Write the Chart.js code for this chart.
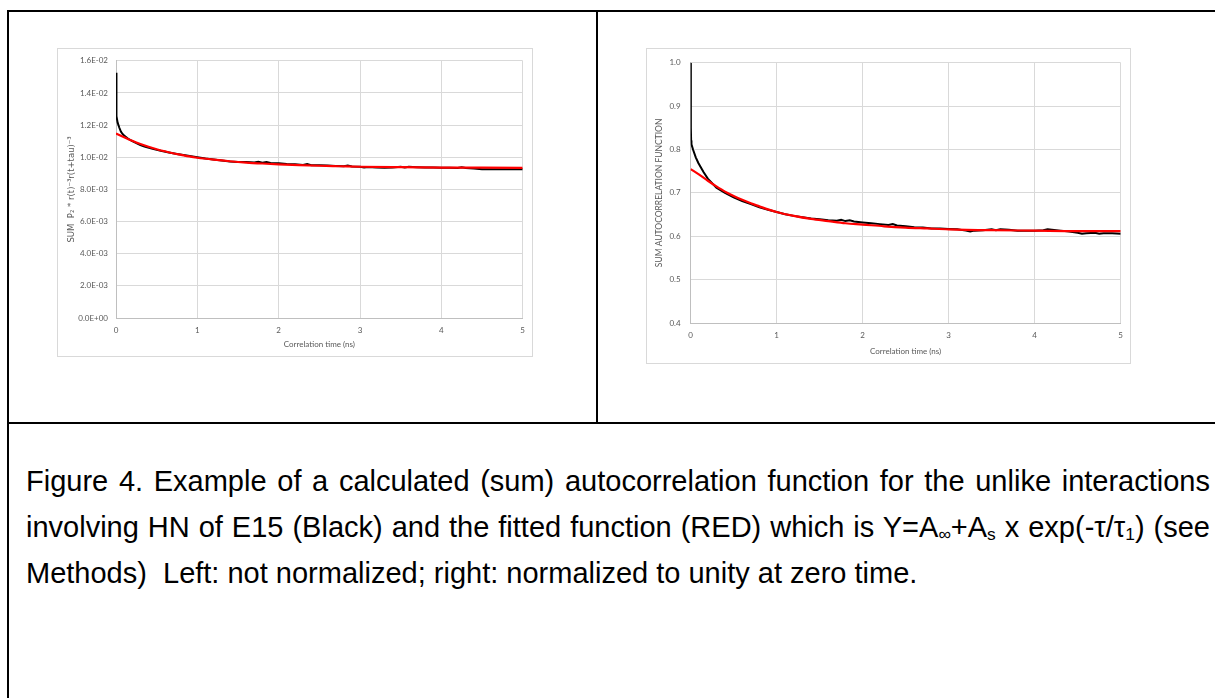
<!DOCTYPE html>
<html>
<head>
<meta charset="utf-8">
<script src="https://cdn.jsdelivr.net/npm/chart.js@4.4.1/dist/chart.umd.min.js"></script>
<style>
  body { margin: 0; background: #fff; }
  #page { position: relative; width: 1215px; height: 698px; overflow: hidden; }
  .rule { position: absolute; background: #000; }
  .frame { position: absolute; border: 1px solid #d9d9d9; box-sizing: border-box; pointer-events: none; }
  canvas { position: absolute; }
  .caption { position: absolute; left: 26px; top: 458px; width: 1184px;
             font-family: "Liberation Sans", Arial, sans-serif; font-size: 29px; line-height: 46px; color: #000; }
  .caption .full { text-align: justify; text-align-last: justify; white-space: nowrap; }
  .caption sub { font-size: 0.6em; vertical-align: -0.2em; line-height: 0; }
</style>
</head>
<body>
<div id="page">
  <div class="rule" style="left:7px; top:10px; width:1208px; height:2px;"></div>
  <div class="rule" style="left:7px; top:10px; width:2px; height:688px;"></div>
  <div class="rule" style="left:596px; top:10px; width:2px; height:414px;"></div>
  <div class="rule" style="left:7px; top:422px; width:1208px; height:2px;"></div>

  <canvas id="rawChart" width="476" height="309" style="left:57px; top:48px;"></canvas>
  <div class="frame" style="left:57px; top:48px; width:476px; height:309px;"></div>

  <canvas id="normChart" width="485" height="316" style="left:646px; top:48px;"></canvas>
  <div class="frame" style="left:646px; top:48px; width:485px; height:316px;"></div>

  <div class="caption">
    <div class="full">Figure 4. Example of a calculated (sum) autocorrelation function for the unlike interactions</div>
    <div class="full">involving HN of E15 (Black) and the fitted function (RED) which is Y=A<sub>∞</sub>+A<sub>s</sub> x exp(-τ/τ<sub>1</sub>) (see</div>
    <div>Methods)&nbsp; Left: not normalized; right: normalized to unity at zero time.</div>
  </div>
</div>

<script>
// correlation time axis (ns) for the computed sum, un-normalized
const rawTime = [0, 0.002, 0.005, 0.01, 0.02, 0.04, 0.06, 0.08, 0.1, 0.15, 0.2, 0.25, 0.3, 0.35, 0.45, 0.55, 0.65, 0.75, 0.85, 1.0,
  1.1, 1.2, 1.3, 1.4, 1.5, 1.6, 1.7, 1.75, 1.8, 1.85, 1.9, 2.0, 2.1, 2.2, 2.3, 2.35, 2.4, 2.5, 2.6, 2.7, 2.8, 2.85,
  2.9, 3.0, 3.05, 3.1, 3.2, 3.3, 3.4, 3.5, 3.55, 3.6, 3.7, 3.8, 3.9, 4.0, 4.1, 4.2, 4.25, 4.3, 4.4, 4.5, 4.6, 4.7, 4.8, 4.9, 5.0];
const rawSum = [0.01525, 0.0140, 0.0134, 0.01255, 0.01215, 0.01185, 0.01160, 0.01145, 0.01135, 0.01115, 0.01100, 0.01088, 0.01076,
  0.01066, 0.01052, 0.01040, 0.01030, 0.01020, 0.01012, 0.01000, 0.00992, 0.00986, 0.00980, 0.00974, 0.00971, 0.00970, 0.00968,
  0.00972, 0.00966, 0.00970, 0.00964, 0.00962, 0.00958, 0.00956, 0.00952, 0.00958, 0.00950, 0.00951, 0.00949, 0.00946, 0.00944,
  0.00948, 0.00942, 0.00941, 0.00936, 0.00940, 0.00936, 0.00935, 0.00936, 0.00941, 0.00936, 0.00941, 0.00938, 0.00936, 0.00936,
  0.00935, 0.00934, 0.00933, 0.00937, 0.00933, 0.00930, 0.00926, 0.00925, 0.00925, 0.00926, 0.00925, 0.00925];

const rawFitTime = [0, 0.1, 0.2, 0.3, 0.4, 0.5, 0.6, 0.7, 0.8, 0.9, 1.0, 1.2, 1.4, 1.6, 1.8, 2.0, 2.25, 2.5, 2.75, 3.0, 3.5, 4.0, 4.5, 5.0];
const rawFit = [0.01148, 0.01125, 0.01102, 0.01082, 0.01065, 0.01050, 0.01037, 0.01025, 0.01015, 0.01005, 0.00997, 0.00985,
  0.00975, 0.00967, 0.00961, 0.00956, 0.00951, 0.00947, 0.00944, 0.00941, 0.00938, 0.00936, 0.00935, 0.00934];

// same function, normalized to 1 at t = 0
const normTime = [0, 0.002, 0.004, 0.006, 0.01, 0.03, 0.06, 0.09, 0.15, 0.2, 0.3, 0.4, 0.5, 0.6, 0.7, 0.8, 0.9, 1.0, 1.1, 1.2, 1.3,
  1.4, 1.5, 1.6, 1.7, 1.75, 1.8, 1.85, 1.9, 2.0, 2.1, 2.2, 2.3, 2.35, 2.4, 2.5, 2.6, 2.7, 2.8, 2.9, 3.0, 3.1, 3.2, 3.25, 3.3,
  3.4, 3.5, 3.55, 3.6, 3.7, 3.8, 3.9, 4.0, 4.1, 4.15, 4.2, 4.3, 4.4, 4.5, 4.55, 4.6, 4.7, 4.75, 4.8, 4.9, 5.0];
const normSum = [1.0, 0.90, 0.85, 0.821, 0.812, 0.799, 0.782, 0.769, 0.748, 0.733, 0.712, 0.700, 0.690, 0.681, 0.674, 0.667, 0.661,
  0.656, 0.651, 0.647, 0.644, 0.641, 0.639, 0.637, 0.636, 0.638, 0.635, 0.637, 0.634, 0.632, 0.630, 0.628, 0.626, 0.628, 0.625,
  0.623, 0.621, 0.620, 0.618, 0.618, 0.617, 0.616, 0.613, 0.611, 0.613, 0.614, 0.616, 0.614, 0.616, 0.615, 0.613, 0.613, 0.613,
  0.614, 0.616, 0.615, 0.613, 0.611, 0.608, 0.606, 0.607, 0.608, 0.606, 0.607, 0.607, 0.606];

const normFitTime = [0, 0.1, 0.2, 0.3, 0.4, 0.5, 0.6, 0.7, 0.8, 0.9, 1.0, 1.2, 1.4, 1.6, 1.8, 2.0, 2.25, 2.5, 2.75, 3.0, 3.5, 4.0, 4.5, 5.0];
const normFit = [0.755, 0.742, 0.728, 0.715, 0.703, 0.693, 0.684, 0.676, 0.669, 0.662, 0.656, 0.647, 0.640, 0.635, 0.630, 0.627,
  0.623, 0.620, 0.618, 0.616, 0.614, 0.613, 0.612, 0.612];

const xTicks = [0, 1, 2, 3, 4, 5];
const rawTicks = [0, 0.002, 0.004, 0.006, 0.008, 0.010, 0.012, 0.014, 0.016];
const normTicks = [0.4, 0.5, 0.6, 0.7, 0.8, 0.9, 1.0];

function pairs(xs, ys) {
  return xs.map((x, i) => ({ x: x, y: ys[i] }));
}

// Excel style scientific labels: 1.6E-02, 0.0E+00
function sciLabel(v) {
  if (Math.abs(v) < 1e-12) return '0.0E+00';
  const exp = Math.floor(Math.log10(Math.abs(v)) + 1e-9);
  const mant = v / Math.pow(10, exp);
  const sign = exp < 0 ? '-' : '+';
  return mant.toFixed(1) + 'E' + sign + String(Math.abs(exp)).padStart(2, '0');
}

const tickFont = { family: 'Lato, "Open Sans", sans-serif', size: 8 };
const tickColor = '#595959';

function makeChart(id, cfg) {
  const ctx = document.getElementById(id).getContext('2d');
  return new Chart(ctx, {
    type: 'line',
    data: {
      datasets: [
        { label: 'fit', data: pairs(cfg.fitT, cfg.fitY), borderColor: '#ff0000', borderWidth: 2.2,
          pointRadius: 0, tension: 0.4, cubicInterpolationMode: 'monotone' },
        { label: 'sum', data: pairs(cfg.t, cfg.y), borderColor: '#000000', borderWidth: 2,
          pointRadius: 0, tension: 0 }
      ]
    },
    options: {
      responsive: false,
      animation: false,
      events: [],
      layout: { padding: { left: 0, right: cfg.padRight, top: cfg.padTop, bottom: 0 } },
      plugins: { legend: { display: false }, tooltip: { enabled: false } },
      scales: {
        x: {
          type: 'linear', min: 0, max: 5,
          afterBuildTicks: (s) => { s.ticks = xTicks.map(v => ({ value: v })); },
          afterFit: (s) => { s.height = cfg.xHeight; },
          grid: { color: '#d9d9d9', lineWidth: 1, drawTicks: false },
          border: { color: '#bfbfbf', width: 1 },
          ticks: { font: tickFont, color: tickColor, padding: 8, maxRotation: 0 },
          title: { display: true, text: 'Correlation time (ns)', font: { family: tickFont.family, size: 8 },
                   color: tickColor, padding: { top: 0, bottom: 8.2 } }
        },
        y: {
          min: cfg.yMin, max: cfg.yMax,
          afterBuildTicks: (s) => { s.ticks = cfg.yTicks.map(v => ({ value: v })); },
          afterFit: (s) => { s.width = cfg.yWidth; },
          grid: { color: '#d9d9d9', lineWidth: 1, drawTicks: false },
          border: { color: '#bfbfbf', width: 1 },
          ticks: { font: tickFont, color: tickColor, padding: cfg.yTickPad, callback: cfg.yFormat },
          title: { display: true, text: cfg.yTitle, font: { family: cfg.yTitleFamily, size: cfg.yTitleSize },
                   color: tickColor, padding: { top: cfg.yTitlePad, bottom: 0 } }
        }
      }
    }
  });
}

makeChart('rawChart', {
  t: rawTime, y: rawSum, fitT: rawFitTime, fitY: rawFit,
  yMin: 0, yMax: 0.016, yTicks: rawTicks, yFormat: sciLabel,
  yWidth: 59, xHeight: 39, padRight: 10, padTop: 8, yTickPad: 8,
  yTitle: 'SUM  P\u2082 * r(t)\u207B\u00B3r(t+tau)\u207B\u00B3', yTitleFamily: '"DejaVu Sans", sans-serif',
  yTitleSize: 8.5, yTitlePad: 9.6
});

makeChart('normChart', {
  t: normTime, y: normSum, fitT: normFitTime, fitY: normFit,
  yMin: 0.4, yMax: 1.0, yTicks: normTicks, yFormat: (v) => v.toFixed(1),
  yWidth: 44.6, xHeight: 41, padRight: 9, padTop: 9, yTickPad: 10,
  yTitle: 'SUM AUTOCORRELATION FUNCTION', yTitleFamily: 'Lato, "Open Sans", sans-serif',
  yTitleSize: 8.5, yTitlePad: 8.2
});
</script>
</body>
</html>
